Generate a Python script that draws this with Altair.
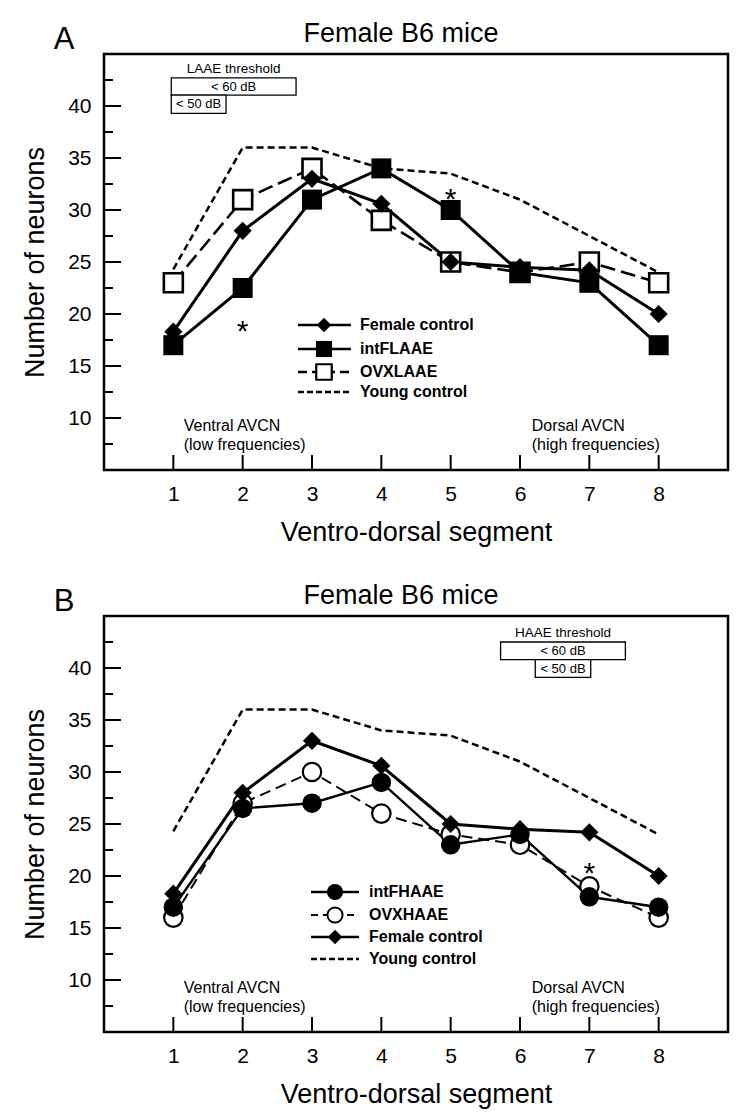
import altair as alt
import pandas as pd

# ---------------- data ----------------
segments = [1, 2, 3, 4, 5, 6, 7, 8]
female_control = [18.3, 28, 33, 30.6, 25, 24.5, 24.2, 20]
young_control = [24.3, 36, 36, 34, 33.5, 31, 27.5, 24]
intFLAAE = [17, 22.5, 31, 34, 30, 24, 23, 17]
OVXLAAE = [23, 31, 34, 29, 25, 24, 25, 23]
intFHAAE = [17, 26.5, 27, 29, 23, 24, 18, 17]
OVXHAAE = [16, 27, 30, 26, 24, 23, 19, 16]

y_tick_values = [10, 15, 20, 25, 30, 35, 40]
y_minor_values = [7.5, 12.5, 17.5, 22.5, 27.5, 32.5, 37.5, 42.5]

asterisks_A = {"seg": [2, 5], "v": [19.0, 31.7]}
asterisks_B = {"seg": [7], "v": [21.0]}

region_left = ["Ventral AVCN", "(low frequencies)"]
region_right = ["Dorsal AVCN", "(high frequencies)"]

panel_title = "Female B6 mice"

# threshold boxes: (label, x1, x2, y1, y2)
thr_A = {"title": "LAAE threshold",
         "boxes": [("< 60 dB", 0.97, 2.77, 41.05, 42.7), ("< 50 dB", 0.97, 1.76, 39.3, 41.05)]}
thr_B = {"title": "HAAE threshold",
         "boxes": [("< 60 dB", 5.72, 7.52, 40.8, 42.5), ("< 50 dB", 6.22, 7.02, 39.1, 40.8)]}

legend_A = ["Female control", "intFLAAE", "OVXLAAE", "Young control"]
legend_B = ["intFHAAE", "OVXHAAE", "Female control", "Young control"]

# ---------------- styling ----------------
W, H = 624, 416
FONT = "Liberation Sans"

x_scale = alt.Scale(domain=[0, 9], nice=False, zero=False)
y_scale = alt.Scale(domain=[5, 45], nice=False, zero=False)

x_axis = alt.Axis(values=segments, ticks=False, domain=False, grid=False,
                  labelFontSize=21, labelPadding=13, labelFont=FONT, labelColor="black",
                  title="Ventro-dorsal segment", titleFontSize=27, titleFont=FONT,
                  titleFontWeight="normal", titleColor="black", titlePadding=15, format="d")
y_axis = alt.Axis(values=y_tick_values, ticks=False, domain=False, grid=False,
                  labelFontSize=21, labelPadding=13, labelFont=FONT, labelColor="black",
                  title="Number of neurons", titleFontSize=27, titleFont=FONT,
                  titleFontWeight="normal", titleColor="black", titlePadding=18)


def X(field="seg:Q"):
    return alt.X(field, scale=x_scale, axis=x_axis)


def Y(field="v:Q"):
    return alt.Y(field, scale=y_scale, axis=y_axis)


def sdf(vals):
    return pd.DataFrame({"seg": segments, "v": vals})


STYLES = {
    "Female control": dict(line=dict(strokeWidth=3), pt=dict(shape="diamond", fill="black", size=330)),
    "intFLAAE": dict(line=dict(strokeWidth=3), pt=dict(shape="square", fill="black", size=400)),
    "OVXLAAE": dict(line=dict(strokeWidth=2.6, strokeDash=[15, 6]),
                    pt=dict(shape="square", fill="white", size=360, strokeWidth=2.6)),
    "Young control": dict(line=dict(strokeWidth=2.5, strokeDash=[7, 4]), pt=None),
    "intFHAAE": dict(line=dict(strokeWidth=2.4), pt=dict(shape="circle", fill="black", size=380)),
    "OVXHAAE": dict(line=dict(strokeWidth=2, strokeDash=[11, 6]),
                    pt=dict(shape="circle", fill="white", size=340, strokeWidth=2.2)),
}

LEG_STYLES = {
    "Female control": dict(shape="diamond", fill="black", size=210),
    "intFLAAE": dict(shape="square", fill="black", size=260),
    "OVXLAAE": dict(shape="square", fill="white", size=240, strokeWidth=2.2),
    "intFHAAE": dict(shape="circle", fill="black", size=260),
    "OVXHAAE": dict(shape="circle", fill="white", size=230, strokeWidth=2),
}

LEG_DASH = {"OVXLAAE": [9, 5], "Young control": [6, 3], "OVXHAAE": [7, 5]}


def line_layer(name, vals):
    st = STYLES[name]["line"]
    return alt.Chart(sdf(vals)).mark_line(color="black", **st).encode(x=X(), y=Y())


def point_layer(name, vals):
    st = dict(STYLES[name]["pt"])
    st.setdefault("strokeWidth", 0)
    return alt.Chart(sdf(vals)).mark_point(stroke="black", opacity=1, filled=False, **st).encode(x=X(), y=Y())


def frame_ticks():
    layers = []
    ymaj = pd.DataFrame({"v": y_tick_values})
    ymin = pd.DataFrame({"v": y_minor_values})
    xt = pd.DataFrame({"seg": segments})
    layers.append(alt.Chart(ymaj).mark_rule(color="black", strokeWidth=2).encode(
        y=Y(), x=alt.value(0), x2=alt.value(17)))
    layers.append(alt.Chart(ymin).mark_rule(color="black", strokeWidth=2).encode(
        y=Y(), x=alt.value(0), x2=alt.value(9)))
    layers.append(alt.Chart(xt).mark_rule(color="black", strokeWidth=2).encode(
        x=X(), y=alt.value(H), y2=alt.value(H - 15)))
    return layers


def threshold_layers(thr):
    rows = []
    for lab, x1, x2, y1, y2 in thr["boxes"]:
        rows.append({"lab": lab, "x1": x1, "x2": x2, "y1": y1, "y2": y2,
                     "xc": (x1 + x2) / 2, "yc": (y1 + y2) / 2})
    df = pd.DataFrame(rows)
    rect = alt.Chart(df).mark_rect(fill="white", stroke="black", strokeWidth=1.3).encode(
        x=X("x1:Q"), x2="x2:Q", y=Y("y1:Q"), y2="y2:Q")
    txt = alt.Chart(df).mark_text(font=FONT, fontSize=13, color="black", baseline="middle").encode(
        x=X("xc:Q"), y=Y("yc:Q"), text="lab:N")
    top = df.iloc[0]
    tdf = pd.DataFrame({"t": [thr["title"]], "x": [top["xc"]], "y": [top["y2"] + 0.85]})
    ttl = alt.Chart(tdf).mark_text(font=FONT, fontSize=13.5, color="black", baseline="middle").encode(
        x=X("x:Q"), y=Y("y:Q"), text="t:N")
    return [rect, txt, ttl]


def region_layers():
    df = pd.DataFrame({
        "t": region_left + region_right,
        "x": [1.15, 1.15, 6.17, 6.17],
        "y": [9.25, 7.4, 9.25, 7.4],
    })
    return [alt.Chart(df).mark_text(font=FONT, fontSize=16, color="black", align="left",
                                    baseline="middle").encode(x=X("x:Q"), y=Y("y:Q"), text="t:N")]


def asterisk_layer(d):
    df = pd.DataFrame(d)
    df["t"] = "*"
    return alt.Chart(df).mark_text(font=FONT, fontSize=30, color="black", baseline="middle", dy=8).encode(
        x=X(), y=Y(), text="t:N")


def legend_layers(names, ys, x0, x1, xs, xt):
    one = pd.DataFrame({"a": [0]})
    layers = []
    for name, yy in zip(names, ys):
        lw = STYLES[name]["line"]["strokeWidth"]
        kw = dict(color="black", strokeWidth=min(lw, 2.6))
        if name in LEG_DASH:
            kw["strokeDash"] = LEG_DASH[name]
        if name == "Young control":
            kw["strokeWidth"] = 2.4
        layers.append(alt.Chart(one).mark_rule(**kw).encode(
            x=alt.value(x0), x2=alt.value(x1), y=alt.value(yy)))
        if name in LEG_STYLES:
            st = dict(LEG_STYLES[name])
            st.setdefault("strokeWidth", 0)
            layers.append(alt.Chart(one).mark_point(stroke="black", opacity=1, **st).encode(
                x=alt.value(xs), y=alt.value(yy)))
        layers.append(alt.Chart(pd.DataFrame({"t": [name]})).mark_text(
            font=FONT, fontSize=16, fontWeight="bold", color="black", align="left", baseline="middle").encode(
            x=alt.value(xt), y=alt.value(yy), text="t:N"))
    return layers


def heading_layers(letter):
    lt = alt.Chart(pd.DataFrame({"t": [letter]})).mark_text(
        font=FONT, fontSize=31, color="black", baseline="middle").encode(
        x=alt.value(-40), y=alt.value(-14), text="t:N")
    tt = alt.Chart(pd.DataFrame({"t": [panel_title]})).mark_text(
        font=FONT, fontSize=27, color="black", baseline="middle", align="center").encode(
        x=alt.value(297), y=alt.value(-20), text="t:N")
    return [lt, tt]


# ---------------- panel A ----------------
layers_A = frame_ticks() + threshold_layers(thr_A) + region_layers() + [
    line_layer("Young control", young_control),
    line_layer("OVXLAAE", OVXLAAE),
    line_layer("Female control", female_control),
    line_layer("intFLAAE", intFLAAE),
    point_layer("OVXLAAE", OVXLAAE),
    point_layer("intFLAAE", intFLAAE),
    point_layer("Female control", female_control),
    asterisk_layer(asterisks_A),
] + legend_layers(legend_A, [271, 295, 318, 338], 194, 247, 220, 256) + heading_layers("A")

panel_A = alt.layer(*layers_A).properties(width=W, height=H)

# ---------------- panel B ----------------
layers_B = frame_ticks() + threshold_layers(thr_B) + region_layers() + [
    line_layer("Young control", young_control),
    line_layer("OVXHAAE", OVXHAAE),
    line_layer("intFHAAE", intFHAAE),
    line_layer("Female control", female_control),
    point_layer("OVXHAAE", OVXHAAE),
    point_layer("intFHAAE", intFHAAE),
    point_layer("Female control", female_control),
    asterisk_layer(asterisks_B),
] + legend_layers(legend_B, [276, 299, 321, 343], 207, 255, 231, 265) + heading_layers("B")

panel_B = alt.layer(*layers_B).properties(width=W, height=H)

chart = alt.vconcat(panel_A, panel_B, spacing=33).properties(
    padding={"left": 12, "top": 10, "right": 0, "bottom": 0}
).configure_view(stroke="black", strokeWidth=2.5)

chart.save("out.html", embed_options={"renderer": "svg", "actions": False})
